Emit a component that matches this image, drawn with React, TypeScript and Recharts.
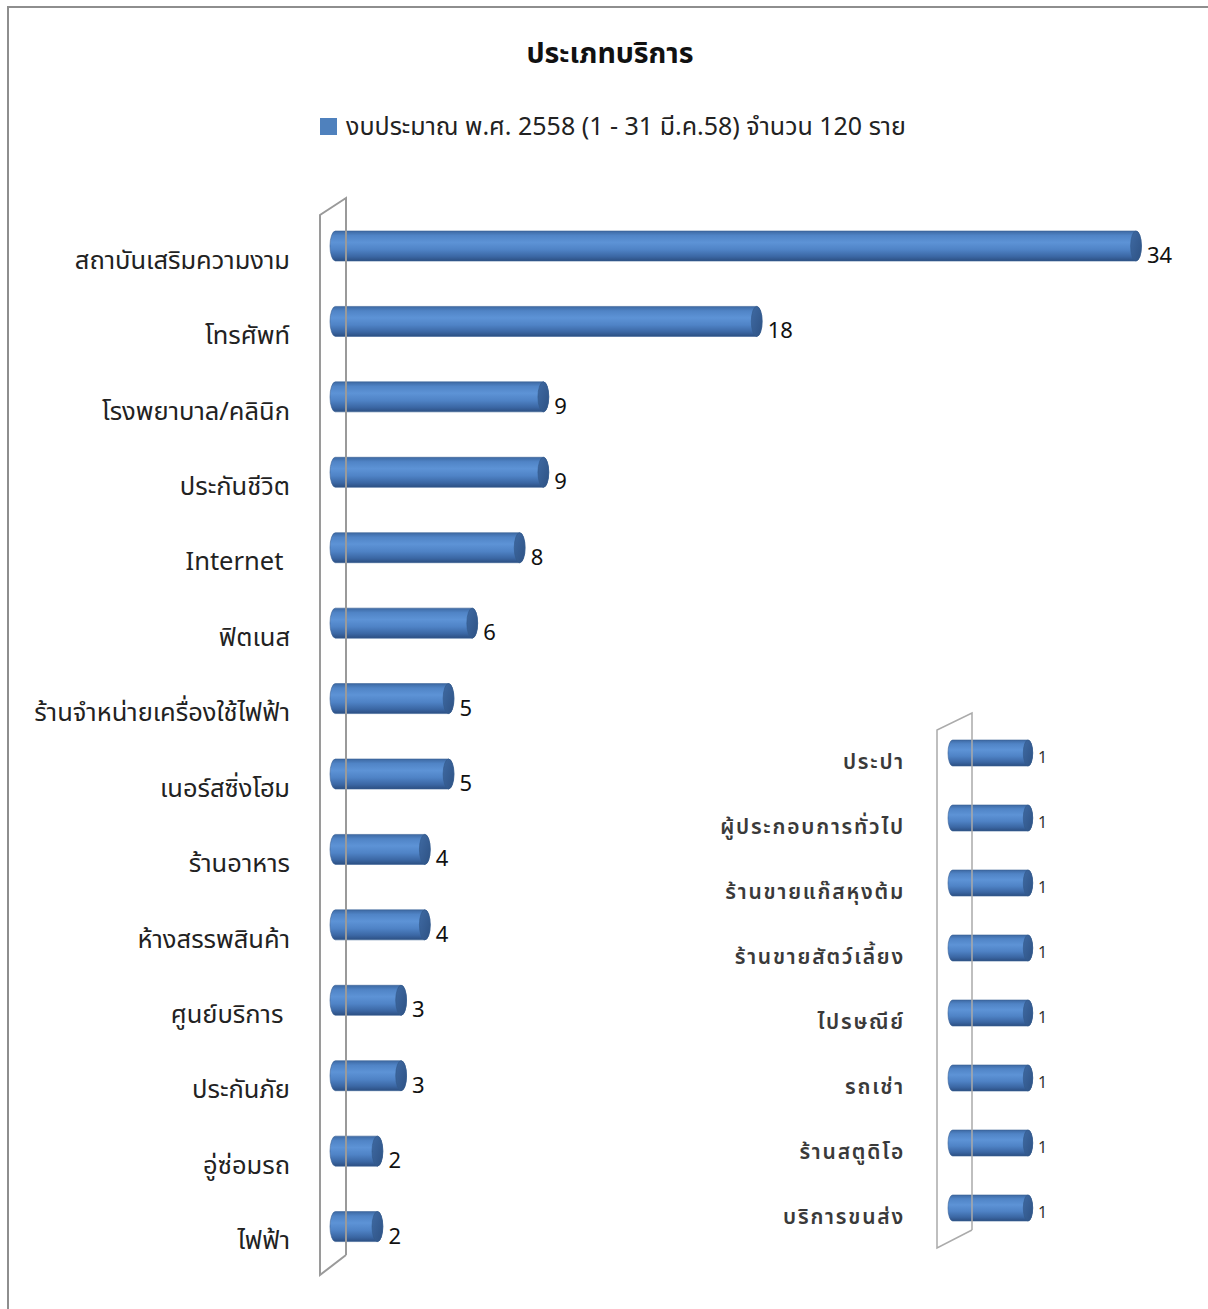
import React from 'react';
import { BarChart, Bar, XAxis, YAxis, LabelList, Legend } from 'recharts';

const mainCategories = [
  'สถาบันเสริมความงาม',
  'โทรศัพท์',
  'โรงพยาบาล/คลินิก',
  'ประกันชีวิต',
  'Internet ',
  'ฟิตเนส',
  'ร้านจำหน่ายเครื่องใช้ไฟฟ้า',
  'เนอร์สซิ่งโฮม',
  'ร้านอาหาร',
  'ห้างสรรพสินค้า',
  'ศูนย์บริการ ',
  'ประกันภัย',
  'อู่ซ่อมรถ',
  'ไฟฟ้า',
];
const mainValues = [34, 18, 9, 9, 8, 6, 5, 5, 4, 4, 3, 3, 2, 2];

const insetCategories = [
  'ประปา',
  'ผู้ประกอบการทั่วไป',
  'ร้านขายแก๊สหุงต้ม',
  'ร้านขายสัตว์เลี้ยง',
  'ไปรษณีย์',
  'รถเช่า',
  'ร้านสตูดิโอ',
  'บริการขนส่ง',
];
const insetValues = [1, 1, 1, 1, 1, 1, 1, 1];

const titleText = 'ประเภทบริการ';
const seriesName = 'งบประมาณ พ.ศ. 2558 (1 - 31 มี.ค.58) จำนวน 120 ราย';

const mainData = mainCategories.map((name, i) => ({ name, value: mainValues[i] }));
const insetData = insetCategories.map((name, i) => ({ name, value: insetValues[i] }));

const FONT = "Tahoma, 'Leelawadee UI', 'Noto Sans Thai', 'Noto Sans', 'DejaVu Sans', sans-serif";
const W = 1208;
const H = 1309;

// main layout
const M_LEFT = 330;
const M_TOP = 208;
const M_BOTTOM = 1264;
const M_WIDTH = 806;

// inset layout
const I_X = 700;
const I_LEFT = 948;
const I_TOP = 720;
const I_BOTTOM = 1240;
const I_WIDTH = 160;

const Cylinder = (props: any) => {
  const { x, y, width, height, gid } = props;
  if (width == null || height == null) return null;
  const rx = Math.max(4, height * 0.18);
  const cy = y + height / 2;
  const ry = height / 2;
  const x0 = x + rx;
  const x1 = x + width;
  const d = `M ${x0} ${y} L ${x1} ${y} A ${rx} ${ry} 0 0 1 ${x1} ${y + height} L ${x0} ${y + height} A ${rx} ${ry} 0 0 1 ${x0} ${y} Z`;
  return (
    <g>
      <path d={d} fill={`url(#${gid})`} stroke="#3a6296" strokeWidth={0.6} />
      <ellipse cx={x1} cy={cy} rx={rx} ry={ry} fill={`url(#${gid}cap)`} stroke="#33598a" strokeWidth={0.6} />
    </g>
  );
};

const Grad = ({ id }: { id: string }) => (
  <defs>
    <linearGradient id={id} x1="0" y1="0" x2="0" y2="1">
      <stop offset="0%" stopColor="#3d69a3" />
      <stop offset="15%" stopColor="#5084c6" />
      <stop offset="38%" stopColor="#5d93d6" />
      <stop offset="62%" stopColor="#4f83c6" />
      <stop offset="85%" stopColor="#3b67a4" />
      <stop offset="100%" stopColor="#2c4f82" />
    </linearGradient>
    <linearGradient id={`${id}cap`} x1="0" y1="0" x2="1" y2="1">
      <stop offset="0%" stopColor="#3f6aa3" />
      <stop offset="100%" stopColor="#2e5284" />
    </linearGradient>
  </defs>
);

const MainTick = (props: any) => {
  const { y, payload } = props;
  return (
    <text x={M_LEFT - 40} y={y + 23} textAnchor="end" fontSize={25.5} fill="#222" fontFamily={FONT} style={{ whiteSpace: 'pre' }}>
      {payload.value}
    </text>
  );
};

const InsetTick = (props: any) => {
  const { y, payload } = props;
  return (
    <text x={I_LEFT - I_X - 43} y={y + 16} textAnchor="end" fontSize={21} fill="#3a3a3a" fontFamily={FONT} fontWeight={600} letterSpacing={1.8}>
      {payload.value}
    </text>
  );
};

const LegendContent = () => (
  <div style={{ position: 'relative', width: W, height: 0, overflow: 'visible', fontFamily: FONT }}>
    <div style={{ position: 'absolute', left: 320, top: 8, width: 17, height: 17, background: '#4f81bd' }} />
    <div style={{ position: 'absolute', left: 346, top: 0, fontSize: 25, color: '#222', whiteSpace: 'nowrap', lineHeight: '34px' }}>
      {seriesName}
    </div>
  </div>
);

export default function App() {
  return (
    <div style={{ position: 'absolute', left: 0, top: 0, width: W, height: H, overflow: 'hidden', background: '#fff', fontFamily: FONT }}>
      <div style={{ position: 'absolute', left: 7, top: 6, width: 1220, height: 1320, borderTop: '2px solid #8e8e8e', borderLeft: '2px solid #8e8e8e' }} />
      <div style={{ position: 'absolute', left: 6, top: 36, width: W, textAlign: 'center', fontSize: 28.5, fontWeight: 'bold', color: '#111', lineHeight: '38px' }}>
        {titleText}
      </div>
      <div style={{ position: 'absolute', left: 0, top: 0 }}>
        <BarChart
          width={W}
          height={H}
          data={mainData}
          layout="vertical"
          margin={{ top: M_TOP, bottom: H - M_BOTTOM, left: 30, right: W - M_LEFT - M_WIDTH }}
          barSize={30}
        >
          <Grad id="cylMain" />
          <XAxis type="number" domain={[0, 34]} hide />
          <YAxis type="category" dataKey="name" width={M_LEFT - 30} axisLine={false} tickLine={false} tick={<MainTick />} interval={0} />
          <Legend verticalAlign="top" height={0} content={<LegendContent />} wrapperStyle={{ position: 'absolute', top: 110, left: 0, width: W, height: 0 }} />
          <Bar dataKey="value" name={seriesName} fill="#4f81bd" isAnimationActive={false} shape={<Cylinder gid="cylMain" />}>
            <LabelList
              dataKey="value"
              content={(p: any) => (
                <text x={p.x + p.width + 11} y={p.y + p.height / 2 + 17} fontSize={22} fill="#111" fontFamily={FONT}>
                  {p.value}
                </text>
              )}
            />
          </Bar>
        </BarChart>
      </div>
      <div style={{ position: 'absolute', left: I_X, top: 0 }}>
        <BarChart
          width={W - I_X}
          height={H}
          data={insetData}
          layout="vertical"
          margin={{ top: I_TOP, bottom: H - I_BOTTOM, left: 8, right: W - I_LEFT - I_WIDTH }}
          barSize={26}
        >
          <Grad id="cylInset" />
          <XAxis type="number" domain={[0, 2]} hide />
          <YAxis type="category" dataKey="name" width={I_LEFT - I_X - 8} axisLine={false} tickLine={false} tick={<InsetTick />} interval={0} />
          <Bar dataKey="value" fill="#4f81bd" isAnimationActive={false} shape={<Cylinder gid="cylInset" />}>
            <LabelList
              dataKey="value"
              content={(p: any) => (
                <text x={p.x + p.width + 10} y={p.y + p.height / 2 + 10} fontSize={16} fill="#333" fontFamily={FONT}>
                  {p.value}
                </text>
              )}
            />
          </Bar>
        </BarChart>
      </div>
      <svg style={{ position: 'absolute', left: 0, top: 0, pointerEvents: 'none' }} width={W} height={H}>
        <polyline
          points={`${M_LEFT + 16},${M_BOTTOM - 9} ${M_LEFT + 16},${M_TOP - 10} ${M_LEFT - 10},${M_TOP + 7} ${M_LEFT - 10},${M_BOTTOM + 11} ${M_LEFT + 16},${M_BOTTOM - 9}`}
          fill="none"
          stroke="#9a9a9a"
          strokeWidth={2}
        />
        <polyline
          points={`${I_LEFT + 24},${I_BOTTOM - 10} ${I_LEFT + 24},${I_TOP - 7} ${I_LEFT - 11},${I_TOP + 10} ${I_LEFT - 11},${I_BOTTOM + 8} ${I_LEFT + 24},${I_BOTTOM - 10}`}
          fill="none"
          stroke="#ababab"
          strokeWidth={1.5}
        />
      </svg>
    </div>
  );
}
